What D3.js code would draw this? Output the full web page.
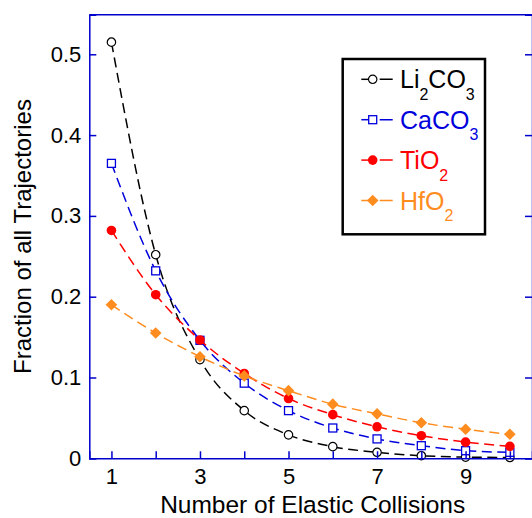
<!DOCTYPE html>
<html>
<head>
<meta charset="utf-8">
<script src="https://cdn.jsdelivr.net/npm/d3@7"></script>
<style>
body { margin: 0; background: #fff; }
svg { display: block; font-family: "Liberation Sans", Arial, sans-serif; }
</style>
</head>
<body>
<svg class="chart" width="532" height="518"></svg>
<script>
var collisions = [1, 2, 3, 4, 5, 6, 7, 8, 9, 10];
var li2co3 = [0.515, 0.252, 0.122, 0.059, 0.029, 0.0144, 0.0074, 0.0032, 0.0015, 0.001];
var caco3 = [0.365, 0.232, 0.146, 0.093, 0.059, 0.0375, 0.024, 0.0156, 0.0094, 0.0074];
var tio2 = [0.282, 0.2025, 0.1464, 0.105, 0.074, 0.054, 0.039, 0.028, 0.020, 0.0148];
var hfo2 = [0.190, 0.155, 0.1257, 0.102, 0.0837, 0.067, 0.055, 0.044, 0.036, 0.0297];
var xTickLabels = [1, 3, 5, 7, 9];
var yTickValues = [0, 0.1, 0.2, 0.3, 0.4, 0.5];

var series = [
	{name: "Li", sub1: "2", rest: "CO", sub2: "3", values: li2co3, color: "#000000", marker: "circle"},
	{name: "CaCO", sub1: "3", rest: "", sub2: "", values: caco3, color: "#0000dd", marker: "square"},
	{name: "TiO", sub1: "2", rest: "", sub2: "", values: tio2, color: "#ff0000", marker: "dot"},
	{name: "HfO", sub1: "2", rest: "", sub2: "", values: hfo2, color: "#ff8c1f", marker: "diamond"}
];

var axisColor = "#0000cc";
var margin = {top: 14.7, right: 0, bottom: 59.7, left: 89.3};
var width = 532 - margin.left - margin.right,
	height = 518 - margin.top - margin.bottom;

var x = d3.scaleLinear().domain([0.5, 10.5]).range([0, width]);
var y = d3.scaleLinear().domain([0, 0.549]).range([height, 0]);

var chart = d3.select('.chart')
	.append('g')
	.attr('transform', 'translate(' + margin.left + ',' + margin.top + ')');

var line = d3.line()
	.curve(d3.curveMonotoneX)
	.x(function(d, i){ return x(collisions[i]); })
	.y(function(d){ return y(d); });

function drawMarker(g, type, color){
	if(type === "circle"){
		g.append('circle').attr('r', 4.2).attr('fill', '#fff').attr('stroke', color).attr('stroke-width', 1.2);
	}else if(type === "square"){
		g.append('rect').attr('x', -4).attr('y', -4).attr('width', 8).attr('height', 8)
			.attr('fill', '#fff').attr('stroke', color).attr('stroke-width', 1.3);
	}else if(type === "dot"){
		g.append('circle').attr('r', 4.8).attr('fill', color);
	}else{
		g.append('path').attr('d', 'M0,-5.8L5.8,0L0,5.8L-5.8,0Z').attr('fill', color);
	}
}

// lines and markers
series.forEach(function(s){
	chart.append('path')
		.datum(s.values)
		.attr('fill', 'none')
		.attr('stroke', s.color)
		.attr('stroke-width', 1.5)
		.attr('stroke-dasharray', '10,5.5')
		.attr('d', line);
	s.values.forEach(function(v, i){
		var g = chart.append('g')
			.attr('transform', 'translate(' + x(collisions[i]) + ',' + y(v) + ')');
		drawMarker(g, s.marker, s.color);
	});
});

// axes
var xAxis = d3.axisBottom(x).tickValues(collisions).tickSize(-7).tickPadding(10)
	.tickFormat(function(d){ return xTickLabels.indexOf(d) >= 0 ? d : ''; });
var yAxis = d3.axisLeft(y).tickValues(yTickValues).tickSize(-7).tickPadding(8)
	.tickFormat(function(d){ return d === 0 ? '0' : d3.format('.1f')(d); });
var yAxisRight = d3.axisRight(y).tickValues(yTickValues).tickSize(-7).tickFormat('');

chart.append('g')
	.attr('class', 'x axis')
	.attr('transform', 'translate(0,' + height + ')')
	.call(xAxis);
chart.append('g')
	.attr('class', 'y axis')
	.call(yAxis);
chart.append('g')
	.attr('class', 'y2 axis')
	.attr('transform', 'translate(' + width + ',0)')
	.call(yAxisRight);

chart.selectAll('.axis path.domain').attr('stroke', axisColor).attr('stroke-width', 1.5);
chart.selectAll('.axis .tick line').attr('stroke', axisColor).attr('stroke-width', 1.5);
chart.selectAll('.axis .tick text').attr('fill', '#000').style('font-size', '22px');

chart.append('line')
	.attr('x1', 0).attr('x2', width).attr('y1', 0).attr('y2', 0)
	.attr('stroke', axisColor).attr('stroke-width', 1.5);

// axis titles
chart.append('text')
	.attr('x', width / 2 + 2)
	.attr('y', height + 55)
	.attr('text-anchor', 'middle')
	.style('font-size', '24.5px')
	.text('Number of Elastic Collisions');

chart.append('text')
	.attr('transform', 'translate(' + (-margin.left + 31) + ',' + (height / 2) + ') rotate(-90)')
	.attr('text-anchor', 'middle')
	.style('font-size', '24px')
	.text('Fraction of all Trajectories');

// legend
var legend = d3.select('.chart').append('g').attr('transform', 'translate(342.7,59)');
legend.append('rect')
	.attr('width', 142.3).attr('height', 175.3)
	.attr('fill', '#fff').attr('stroke', '#000').attr('stroke-width', 2.5);

series.forEach(function(s, i){
	var row = legend.append('g').attr('transform', 'translate(0,' + (20.3 + i * 40.4) + ')');
	row.append('line').attr('x1', 18.6).attr('x2', 28).attr('stroke', s.color).attr('stroke-width', 1.5);
	row.append('line').attr('x1', 34).attr('x2', 50).attr('stroke', s.color).attr('stroke-width', 1.5)
		.attr('stroke-dasharray', '0,3,13');
	var m = row.append('g').attr('transform', 'translate(30,0)');
	drawMarker(m, s.marker, s.color);
	var t = row.append('text')
		.attr('x', 57.3).attr('y', 9)
		.attr('fill', s.color)
		.style('font-size', '25px');
	t.append('tspan').text(s.name);
	t.append('tspan').attr('dy', 11.7).style('font-size', '16px').text(s.sub1);
	if(s.rest){
		t.append('tspan').attr('dy', -11.7).text(s.rest);
		t.append('tspan').attr('dy', 11.7).style('font-size', '16px').text(s.sub2);
	}
});
</script>
</body>
</html>
